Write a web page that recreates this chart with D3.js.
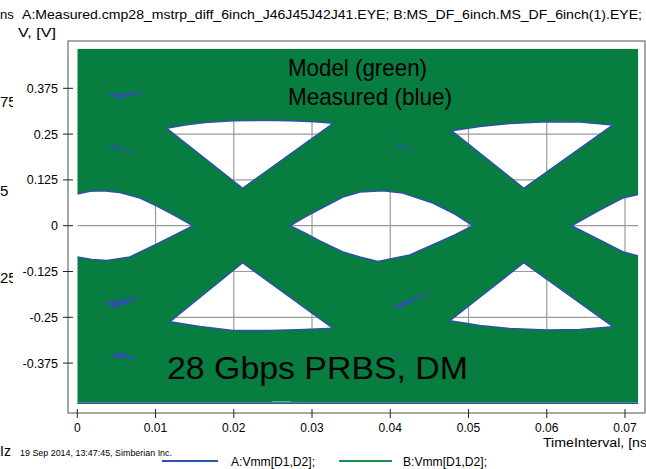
<!DOCTYPE html>
<html>
<head>
<meta charset="utf-8">
<script src="https://cdn.jsdelivr.net/npm/d3@7"></script>
<style>
html,body{margin:0;padding:0;background:#fff;}
svg{display:block;}
text{font-family:"Liberation Sans",Arial,sans-serif;fill:#000;}
</style>
</head>
<body>
<svg id="chart" width="646" height="469"></svg>
<script>
// ---------- data (time in ns, voltage in V) ----------
const xTicks = [0, 0.01, 0.02, 0.03, 0.04, 0.05, 0.06, 0.07];
const xTickLabels = ["0", "0.01", "0.02", "0.03", "0.04", "0.05", "0.06", "0.07"];
const yTicks = [-0.375, -0.25, -0.125, 0, 0.125, 0.25, 0.375];
const yTickLabels = ["-0.375", "-0.25", "-0.125", "0", "0.125", "0.25", "0.375"];
const timeExtent = [0, 0.0717];
const voltExtent = [-0.483, 0.483];

// eye openings (white) of the model eye, each as top edge and bottom edge
const eyeLeftTop = [[0,0.0865],[0.00162,0.0939],[0.00328,0.0955],[0.00545,0.0906],[0.00801,0.0756],[0.01018,0.0538],[0.01248,0.0278],[0.01481,0]];
const eyeLeftBottom = [[0,-0.0854],[0.00188,-0.0922],[0.00380,-0.0950],[0.00673,-0.0854],[0.01018,-0.0499],[0.01248,-0.0254],[0.01481,0]];
const eyeMidTop = [[0.02717,0],[0.02908,0.0237],[0.03100,0.0456],[0.03394,0.0783],[0.03611,0.0920],[0.03905,0.0955],[0.04161,0.0892],[0.04544,0.0620],[0.04825,0.0319],[0.05055,0]];
const eyeMidBottom = [[0.02717,0],[0.02908,-0.0199],[0.03100,-0.0418],[0.03394,-0.0718],[0.03611,-0.0854],[0.03841,-0.0977],[0.04249,-0.0800],[0.04595,-0.0472],[0.04825,-0.0254],[0.05055,0]];
const eyeRightTop = [[0.06315,0],[0.06676,0.0428],[0.06970,0.0756],[0.0717,0.0852]];
const eyeRightBottom = [[0.06315,0],[0.06676,-0.0390],[0.06970,-0.0710],[0.0717,-0.0827]];
const triUpLeftTop = [[0.01142,0.2658],[0.01376,0.2748],[0.01631,0.2817],[0.01989,0.2866],[0.02334,0.2877],[0.02717,0.2866],[0.03036,0.2838],[0.03270,0.2795]];
const triUpLeftBottom = [[0.01142,0.2658],[0.02113,0.1021],[0.03270,0.2795]];
const triLowLeftTop = [[0.01184,-0.2620],[0.02113,-0.1010],[0.03270,-0.2800]];
const triLowLeftBottom = [[0.01184,-0.2620],[0.01567,-0.2751],[0.01989,-0.2860],[0.02461,-0.2860],[0.02909,-0.2833],[0.03270,-0.2800]];
const triUpRightTop = [[0.04782,0.2593],[0.05144,0.2707],[0.05527,0.2789],[0.05996,0.2838],[0.06421,0.2830],[0.06847,0.2748]];
const triUpRightBottom = [[0.04782,0.2593],[0.05706,0.1021],[0.06847,0.2748]];
const triLowRightTop = [[0.04761,-0.2593],[0.05706,-0.1010],[0.06847,-0.2757]];
const triLowRightBottom = [[0.04761,-0.2593],[0.05144,-0.2724],[0.05527,-0.2806],[0.05996,-0.2847],[0.06421,-0.2833],[0.06847,-0.2757]];

// measured-only (blue) slivers inside the green band
const wedgeA = [[0.00392,0.3608],[0.00546,0.3594],[0.00865,0.3649],[0.00507,0.3472]];
const wedgeB = [[0.00392,0.2243],[0.00750,0.2011],[0.00469,0.2134]];
const wedgeC = [[0.00354,-0.2110],[0.00801,-0.1932],[0.00482,-0.2246]];
const wedgeD = [[0.00418,-0.3556],[0.00546,-0.3461],[0.00763,-0.3638],[0.00520,-0.3597]];
const wedgeE = [[0.04058,0.2257],[0.04326,0.2039],[0.04122,0.2162]];
const wedgeF = [[0.04033,-0.2192],[0.04531,-0.1782],[0.04148,-0.2219]];
const wedgeG = [[0.04033,-0.3502],[0.04173,-0.3556],[0.04071,-0.3542]];
const paleSpot = [[0.0249,-0.4835],[0.0273,-0.4835],[0.0273,-0.4790],[0.0249,-0.4790]];

const titleText = "A:Measured.cmp28_mstrp_diff_6inch_J46J45J42J41.EYE; B:MS_DF_6inch.MS_DF_6inch(1).EYE;";
const yUnitText = "V, [V]";
const xUnitText = "TimeInterval, [ns";
const stampText = "19 Sep 2014, 13:47:45, Simberian Inc.";
const legendNames = ["A:Vmm[D1,D2];", "B:Vmm[D1,D2];"];
const noteLines = ["Model (green)", "Measured (blue)"];
const bigNote = "28 Gbps PRBS, DM";

// ---------- drawing ----------
const GREEN = "#077d40", BLUE = "#2d52a9";
const svg = d3.select("#chart");
const x = d3.scaleLinear().domain([0, 0.07]).range([77.3, 625]);
const y = d3.scaleLinear().domain([-0.375, 0.375]).range([363.1, 88.3]);
const line = d3.line().x(d => x(d[0])).y(d => y(d[1]));
const poly = d3.line().x(d => x(d[0])).y(d => y(d[1])).curve(d3.curveLinearClosed);

// clipped stray labels from a window underneath
const defs = svg.append("defs");
defs.append("clipPath").attr("id","leftclip").append("rect").attr("x",0).attr("y",0).attr("width",13).attr("height",469);
const stray = svg.append("g").attr("clip-path","url(#leftclip)").style("font-size","15px");
stray.append("text").attr("x",0).attr("y",107).text("75");
stray.append("text").attr("x",0).attr("y",196).text("5");
stray.append("text").attr("x",0).attr("y",283).text("25");
svg.append("text").attr("x",0).attr("y",19).style("font-size","13px").text("ns");
svg.append("text").attr("x",0).attr("y",456).style("font-size","14px").text("Iz");

// title + units
svg.append("text").attr("x",22).attr("y",19).style("font-size","13px")
  .attr("textLength",620).attr("lengthAdjust","spacingAndGlyphs").text(titleText);
svg.append("text").attr("x",18).attr("y",37).style("font-size","13px")
  .attr("textLength",38).attr("lengthAdjust","spacingAndGlyphs").text(yUnitText);

// frame
svg.append("rect").attr("x",68).attr("y",41).attr("width",577).attr("height",372)
  .attr("fill","#fff").attr("stroke","#8a8a8a").attr("stroke-width",1.5);

// grid (clipped to data area)
defs.append("clipPath").attr("id","dataclip").append("rect")
  .attr("x",x(timeExtent[0])).attr("y",y(voltExtent[1]))
  .attr("width",x(timeExtent[1])-x(timeExtent[0])).attr("height",y(voltExtent[0])-y(voltExtent[1]));
const plot = svg.append("g").attr("clip-path","url(#dataclip)");
plot.selectAll("line.gx").data(xTicks.slice(1)).enter().append("line")
  .attr("x1",d=>x(d)).attr("x2",d=>x(d)).attr("y1",y(voltExtent[1])).attr("y2",y(voltExtent[0]))
  .attr("stroke","#9a9a9a").attr("stroke-width",1.2);
plot.selectAll("line.gy").data(yTicks).enter().append("line")
  .attr("x1",x(timeExtent[0])).attr("x2",x(timeExtent[1])).attr("y1",d=>y(d)).attr("y2",d=>y(d))
  .attr("stroke","#9a9a9a").attr("stroke-width",1.2);

// green band with eye openings as holes
const openings = [
  [eyeLeftTop, eyeLeftBottom], [eyeMidTop, eyeMidBottom], [eyeRightTop, eyeRightBottom],
  [triUpLeftTop, triUpLeftBottom], [triLowLeftTop, triLowLeftBottom],
  [triUpRightTop, triUpRightBottom], [triLowRightTop, triLowRightBottom]
];
const outer = [[timeExtent[0],voltExtent[1]],[timeExtent[1],voltExtent[1]],[timeExtent[1],voltExtent[0]],[timeExtent[0],voltExtent[0]]];
let d = poly(outer);
openings.forEach(o => { d += poly(o[0].concat(o[1].slice().reverse())); });
plot.append("path").attr("d",d).attr("fill",GREEN).attr("fill-rule","evenodd");

// blue (measured) outlines of the openings
openings.forEach(o => {
  plot.append("path").attr("d",line(o[0])).attr("fill","none").attr("stroke",BLUE).attr("stroke-width",1.6);
  plot.append("path").attr("d",line(o[1])).attr("fill","none").attr("stroke",BLUE).attr("stroke-width",1.6);
});
[wedgeA,wedgeB,wedgeC,wedgeD,wedgeE,wedgeF,wedgeG].forEach(w => {
  plot.append("path").attr("d",poly(w)).attr("fill",BLUE).attr("stroke",BLUE).attr("stroke-width",0.6);
});
plot.append("path").attr("d",poly(paleSpot)).attr("fill","#7fb99a");
svg.append("line").attr("x1",x(timeExtent[0])).attr("x2",x(timeExtent[1]))
  .attr("y1",y(voltExtent[0])+0.5).attr("y2",y(voltExtent[0])+0.5).attr("stroke",BLUE).attr("stroke-width",1.5);

// axes ticks
svg.selectAll("line.tx").data(xTicks).enter().append("line")
  .attr("x1",d=>x(d)).attr("x2",d=>x(d)).attr("y1",409).attr("y2",418).attr("stroke","#222").attr("stroke-width",1);
svg.selectAll("text.tx").data(xTicks).enter().append("text")
  .attr("x",d=>x(d)).attr("y",432).attr("text-anchor","middle").style("font-size","12px")
  .text((d,i)=>xTickLabels[i]);
svg.selectAll("line.ty").data(yTicks).enter().append("line")
  .attr("x1",63).attr("x2",73).attr("y1",d=>y(d)).attr("y2",d=>y(d)).attr("stroke","#222").attr("stroke-width",1);
svg.selectAll("text.ty").data(yTicks).enter().append("text")
  .attr("x",58).attr("y",d=>y(d)+4.5).attr("text-anchor","end").style("font-size","12.5px")
  .text((d,i)=>yTickLabels[i]);

svg.append("text").attr("x",543).attr("y",446.5).style("font-size","12px")
  .attr("textLength",104).attr("lengthAdjust","spacingAndGlyphs").text(xUnitText);
svg.append("text").attr("x",20).attr("y",456).style("font-size","9px")
  .attr("textLength",152).attr("lengthAdjust","spacingAndGlyphs").text(stampText);

// legend
const legColors = [BLUE, "#1a8c4e"];
const legLineX = [[162,218],[339,392]];
const legTextX = [231, 403];
legendNames.forEach((n,i) => {
  svg.append("line").attr("x1",legLineX[i][0]).attr("x2",legLineX[i][1]).attr("y1",461).attr("y2",461)
    .attr("stroke",legColors[i]).attr("stroke-width",2);
  svg.append("text").attr("x",legTextX[i]).attr("y",466).style("font-size","13px")
    .attr("textLength",84).attr("lengthAdjust","spacingAndGlyphs").text(n);
});

// annotations
svg.append("text").attr("x",288).attr("y",76).style("font-size","24px")
  .attr("textLength",139).attr("lengthAdjust","spacingAndGlyphs").text(noteLines[0]);
svg.append("text").attr("x",288).attr("y",104.5).style("font-size","24px")
  .attr("textLength",164).attr("lengthAdjust","spacingAndGlyphs").text(noteLines[1]);
svg.append("text").attr("x",167).attr("y",379).style("font-size","31px")
  .attr("textLength",301).attr("lengthAdjust","spacingAndGlyphs").text(bigNote);
</script>
</body>
</html>
